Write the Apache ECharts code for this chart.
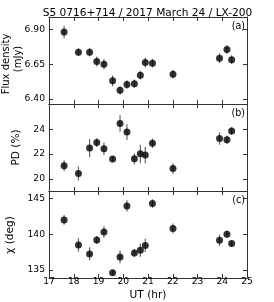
<!DOCTYPE html>
<html>
<head>
<meta charset="utf-8">
<script src="https://cdn.jsdelivr.net/npm/echarts@6/dist/echarts.min.js"></script>
<style>html,body{margin:0;padding:0;background:#fff;}#c{width:274px;height:302px;}</style>
</head>
<body>
<div id="c"></div>
<script>
const ut = [17.61, 18.19, 18.64, 18.93, 19.22, 19.57, 19.87, 20.15, 20.45, 20.69, 20.89, 21.18, 22.01, 23.89, 24.19, 24.38];
const flux = [6.880, 6.736, 6.736, 6.669, 6.650, 6.530, 6.462, 6.504, 6.510, 6.571, 6.661, 6.657, 6.578, 6.693, 6.755, 6.682];
const fluxErr = [0.045, 0.029, 0.031, 0.036, 0.036, 0.039, 0.030, 0.030, 0.030, 0.031, 0.035, 0.031, 0.031, 0.035, 0.031, 0.031];
const pd = [21.06, 20.44, 22.48, 22.93, 22.43, 21.60, 24.46, 23.77, 21.62, 22.02, 21.92, 22.88, 20.84, 23.25, 23.15, 23.85];
const pdErr = [0.45, 0.57, 0.72, 0.35, 0.50, 0.25, 0.67, 0.64, 0.43, 0.74, 0.65, 0.38, 0.43, 0.50, 0.33, 0.32];
const chi = [142.0, 138.49, 137.23, 139.19, 140.31, 134.57, 136.81, 143.96, 137.37, 137.75, 138.41, 144.3, 140.79, 139.15, 139.99, 138.69];
const chiErr = [0.7, 0.93, 0.93, 0.56, 0.8, 0.35, 0.9, 0.8, 0.56, 0.93, 0.93, 0.6, 0.7, 0.8, 0.5, 0.42];
const xTicks = [17, 18, 19, 20, 21, 22, 23, 24, 25];
const fluxTicks = [6.40, 6.65, 6.90];
const pdTicks = [20, 22, 24];
const chiTicks = [135, 140, 145];
const title = 'S5 0716+714 / 2017 March 24 / LX-200';
const panelLabels = ['(a)', '(b)', '(c)'];
const yNames = [['Flux density', '(mJy)'], ['PD (%)'], ['χ (deg)']];

const FONT = 'DejaVu Sans';
const LINE = '#333';
const TICKFS = 9.2;
const NAMEFS = 10.6;
const grids = [
  {left: 49, width: 198, top: 17, height: 87, containLabel: false, outerBoundsMode: 'none'},
  {left: 49, width: 198, top: 104, height: 87, containLabel: false, outerBoundsMode: 'none'},
  {left: 49, width: 198, top: 191, height: 87, containLabel: false, outerBoundsMode: 'none'}
];
const yRanges = [[6.364, 6.988], [19.03, 26.03], [133.85, 146.05]];
const yTickSets = [fluxTicks, pdTicks, chiTicks];
const yFmt = [v => v.toFixed(2), v => String(v), v => String(v)];
// y-axis title placement: [x of each line], [y of each line], font size
const yNamePos = [[[6.7, 18], [64, 59], 10], [[16], [147.5], NAMEFS], [[10], [235], NAMEFS]];
const ySets = [[flux, fluxErr], [pd, pdErr], [chi, chiErr]];

const xAxes = [], yAxes = [], series = [];
grids.forEach((g, i) => {
  const last = i === 2;
  const baseX = {
    type: 'value', gridIndex: i, min: 17, max: 25, interval: 1,
    axisLine: {show: true, onZero: false, lineStyle: {color: LINE, width: 1}},
    axisTick: {show: true, inside: true, length: 4, customValues: xTicks, lineStyle: {color: LINE}},
    splitLine: {show: false}
  };
  xAxes.push(Object.assign({}, baseX, {
    position: 'bottom',
    axisLabel: {show: last, customValues: xTicks, color: '#000', fontFamily: FONT, fontSize: TICKFS, margin: -1, formatter: v => String(v)},
    name: last ? 'UT (hr)' : '', nameLocation: 'middle', nameGap: 12, nameMoveOverlap: false,
    nameTextStyle: {color: '#000', fontFamily: FONT, fontSize: NAMEFS}
  }));
  xAxes.push(Object.assign({}, baseX, {position: 'top', axisLabel: {show: false}}));
  const baseY = {
    type: 'value', gridIndex: i, min: yRanges[i][0], max: yRanges[i][1],
    axisLine: {show: true, onZero: false, lineStyle: {color: LINE, width: 1}},
    axisTick: {show: true, inside: true, length: 4, customValues: yTickSets[i], lineStyle: {color: LINE}},
    splitLine: {show: false}
  };
  yAxes.push(Object.assign({}, baseY, {
    position: 'left',
    axisLabel: {show: true, customValues: yTickSets[i], formatter: yFmt[i], color: '#000', fontFamily: FONT, fontSize: TICKFS, margin: 4}
  }));
  yAxes.push(Object.assign({}, baseY, {position: 'right', axisLabel: {show: false}}));

  const vals = ySets[i][0], errs = ySets[i][1];
  series.push({
    type: 'custom', xAxisIndex: i * 2, yAxisIndex: i * 2, z: 2,
    data: ut.map((x, k) => [x, vals[k], errs[k]]),
    renderItem: function (params, api) {
      const x = api.value(0), y = api.value(1), e = api.value(2);
      const p1 = api.coord([x, y - e]), p2 = api.coord([x, y + e]);
      return {type: 'line', shape: {x1: p1[0], y1: p1[1], x2: p2[0], y2: p2[1]}, style: {stroke: '#666', lineWidth: 1.2}};
    }
  });
  series.push({
    type: 'scatter', xAxisIndex: i * 2, yAxisIndex: i * 2, z: 3,
    symbol: 'circle', symbolSize: 7, itemStyle: {color: '#000'},
    data: ut.map((x, k) => [x, vals[k]])
  });
});

const graphics = panelLabels.map((t, i) => ({
  type: 'text', x: 245, y: grids[i].top + 9, z: 10,
  style: {text: t, fill: '#000', font: '9.6px "DejaVu Sans"', textAlign: 'right', textVerticalAlign: 'middle'}
}));
graphics.push({
  type: 'text', x: 147.5, y: 13, z: 10,
  style: {text: title, fill: '#000', font: '10.6px "DejaVu Sans"', textAlign: 'center', textVerticalAlign: 'middle'}
});
yNames.forEach((lines, i) => {
  lines.forEach((line, j) => {
    graphics.push({
      type: 'text', x: yNamePos[i][0][j], y: yNamePos[i][1][j], rotation: Math.PI / 2, z: 10,
      style: {text: line, fill: '#000', font: yNamePos[i][2] + 'px "DejaVu Sans"', textAlign: 'center', textVerticalAlign: 'middle'}
    });
  });
});

const chart = echarts.init(document.getElementById('c'), null, {renderer: 'canvas'});
chart.setOption({
  animation: false,
  backgroundColor: '#fff',
  grid: grids,
  xAxis: xAxes,
  yAxis: yAxes,
  series: series,
  graphic: graphics
});
</script>
</body>
</html>
